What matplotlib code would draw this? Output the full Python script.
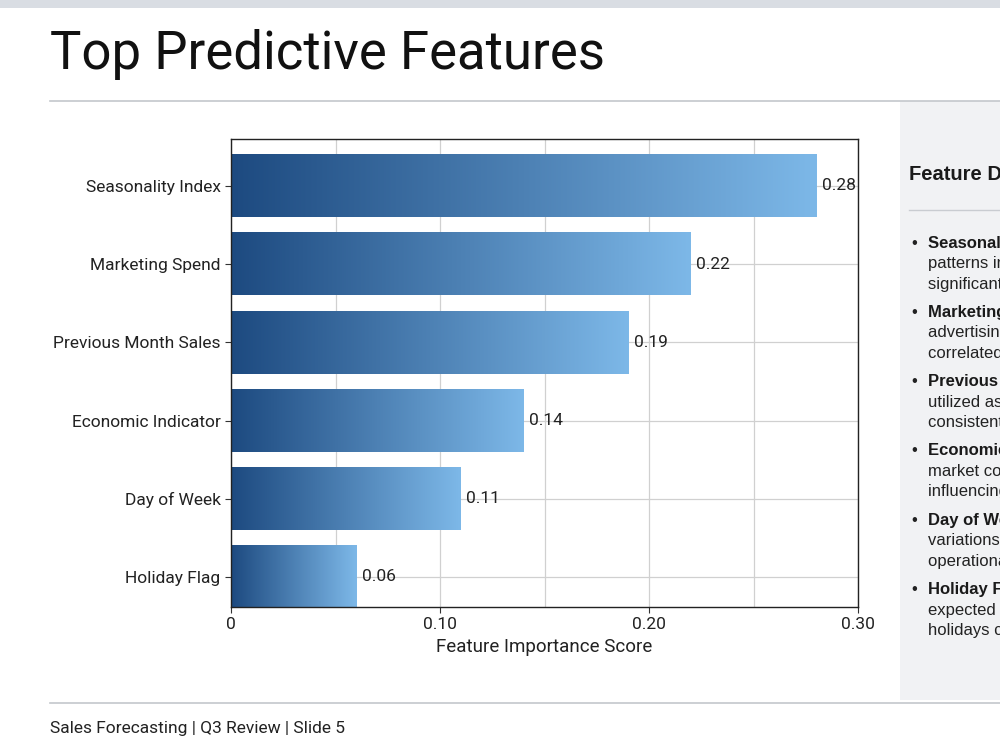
import matplotlib.pyplot as plt
import numpy as np
from matplotlib.colors import LinearSegmentedColormap
from matplotlib.patches import Rectangle

features = ["Seasonality Index", "Marketing Spend", "Previous Month Sales",
            "Economic Indicator", "Day of Week", "Holiday Flag"]
scores = [0.28, 0.22, 0.19, 0.14, 0.11, 0.06]
x_ticks = [0, 0.10, 0.20, 0.30]
x_tick_labels = ["0", "0.10", "0.20", "0.30"]

notes = [
    ("Seasonality Index:", "patterns in consumer demand are the", "significant driver of sales."),
    ("Marketing Spend:", "advertising investment is strongly", "correlated with revenue growth."),
    ("Previous Month Sales:", "utilized as a baseline for", "consistent trend estimation."),
    ("Economic Indicator:", "market conditions and confidence", "influencing purchase volume."),
    ("Day of Week:", "variations in weekly store traffic and", "operational patterns."),
    ("Holiday Flag:", "expected uplift during major", "holidays captured separately."),
]

plt.rcParams['font.family'] = ['Roboto', 'DejaVu Sans']

fig = plt.figure(figsize=(10, 7.5), dpi=100)
fig.patch.set_facecolor("white")

# top band, side panel, separators
fig.add_artist(Rectangle((0, 1 - 8 / 750), 1, 8 / 750, transform=fig.transFigure,
                         color="#d9dde3", lw=0))
fig.add_artist(Rectangle((0.9, 1 - 700 / 750), 0.1, 599 / 750, transform=fig.transFigure,
                         color="#f1f2f4", lw=0))
fig.add_artist(plt.Line2D([0.05, 1], [1 - 101 / 750] * 2, transform=fig.transFigure,
                          color="#c4c7cc", lw=1.2))
fig.add_artist(plt.Line2D([0.05, 1], [1 - 703 / 750] * 2, transform=fig.transFigure,
                          color="#c4c7cc", lw=1.2))

fig.text(0.05, 1 - 55 / 750, "Top Predictive Features", fontsize=38, va="center",
         color="#111111")
fig.text(0.05, 1 - 728 / 750, "Sales Forecasting | Q3 Review | Slide 5", fontsize=12.5,
         va="center", color="#222222")

ax = fig.add_axes([0.231, 1 - 607 / 750, 0.627, 468 / 750])
cmap = LinearSegmentedColormap.from_list("bars", ["#1d4a80", "#7db8e8"])
grad = np.linspace(0, 1, 256).reshape(1, -1)

ypos = np.arange(len(features))
bar_h = 0.8
for y, v in zip(ypos, scores):
    ax.imshow(grad, cmap=cmap, aspect="auto", extent=[0, v, y + bar_h / 2, y - bar_h / 2],
              zorder=2)
    ax.annotate(f"{v:.2f}", (v, y), xytext=(4, 0), textcoords="offset points",
                va="center", ha="left", fontsize=12.5, color="#222222", zorder=3)

ax.set_xlim(0, 0.30)
ax.set_ylim(len(features) - 1 + 0.385, -0.6)
ax.set_yticks(ypos, features, fontsize=12.5)
ax.set_xticks(x_ticks, x_tick_labels, fontsize=12.5)
ax.set_xticks([0.05, 0.15, 0.25], minor=True)
ax.tick_params(axis="x", which="minor", length=0)
ax.tick_params(axis="both", which="major", length=4, color="#333333", labelcolor="#222222")
ax.grid(True, which="both", color="#d0d0d0", lw=0.9, zorder=0)
ax.set_axisbelow(True)
ax.set_xlabel("Feature Importance Score", fontsize=13.5, color="#222222", labelpad=4)
for s in ax.spines.values():
    s.set_color("#222222")
    s.set_linewidth(1.0)

# side panel text
panel_font = ['Liberation Sans', 'DejaVu Sans']
fig.text(0.909, 1 - 175 / 750, "Feature Descriptions", fontsize=14.5, fontweight="bold",
         va="center", color="#1a1a1a", family=panel_font)
fig.add_artist(plt.Line2D([0.909, 1], [1 - 210 / 750] * 2, transform=fig.transFigure,
                          color="#c9ccd1", lw=1.0))
for i, (head, l2, l3) in enumerate(notes):
    y0 = 243 + i * 69.3
    fig.text(0.911, 1 - y0 / 750, "•", fontsize=12, va="center", color="#222222",
             family=panel_font)
    fig.text(0.928, 1 - y0 / 750, head, fontsize=12, fontweight="bold", va="center",
             color="#1a1a1a", family=panel_font)
    fig.text(0.928, 1 - (y0 + 20.5) / 750, l2, fontsize=12, va="center",
             color="#222222", family=panel_font)
    fig.text(0.928, 1 - (y0 + 41) / 750, l3, fontsize=12, va="center",
             color="#222222", family=panel_font)

fig.savefig("out.png", dpi=100)
